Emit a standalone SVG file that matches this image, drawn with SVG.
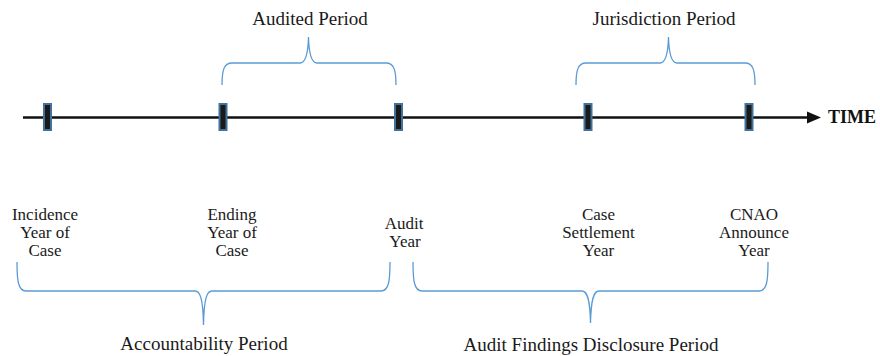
<svg xmlns="http://www.w3.org/2000/svg" width="880" height="356" viewBox="0 0 880 356">
  <style>
    .brace { fill: none; stroke: #5b9bd5; stroke-width: 1.3; }
    .tick { fill: #1a1a1a; stroke: #41719c; stroke-width: 2; }
    .axis { stroke: #111; stroke-width: 2.6; fill: none; }
    .lbl { font-family: "Liberation Serif", "Times New Roman", serif; font-size: 17px; fill: #1a1a1a; text-anchor: middle; }
    .period { font-family: "Liberation Serif", "Times New Roman", serif; font-size: 19px; fill: #1a1a1a; text-anchor: middle; }
    .time { font-family: "Liberation Serif", "Times New Roman", serif; font-size: 18px; font-weight: bold; fill: #111; }
  </style>
  <rect width="880" height="356" fill="#fff"/>

  <!-- time axis and braces -->
  <g id="connectors">
    <line class="axis" x1="23" y1="117.5" x2="810" y2="117.5"/>
    <polygon points="807,111.5 821,117.5 807,123.5" fill="#111"/>
    <!-- top braces -->
    <path class="brace" d="M222,85 C222,70 224,63 232,63 L300,63 C305,63 308,56 308.5,37 C309,56 312,63 317,63 L386,63 C394,63 396,70 396,85"/>
    <path class="brace" d="M576,85 C576,70 578,63 586,63 L660,63 C665,63 668,56 668.5,37 C669,56 672,63 677,63 L745,63 C753,63 755,70 755,85"/>
    <!-- bottom braces -->
    <path class="brace" d="M17,262 C17,280 18,291 26,291 L195,291 C200,291 203,298 203.5,325 C204,298 207,291 212,291 L381,291 C389,291 390,280 390,262"/>
    <path class="brace" d="M413,262 C413,280 414,291 422,291 L582,291 C587,291 590,298 590.5,323 C591,298 594,291 599,291 L759,291 C767,291 768,280 768,262"/>
  </g>

  <g id="time-label">
    <text class="time" x="828" y="123">TIME</text>
  </g>

  <g id="node-incidence">
    <rect class="tick" x="44" y="104" width="7" height="26"/>
    <text class="lbl" x="45" y="220">Incidence</text>
    <text class="lbl" x="45" y="238">Year of</text>
    <text class="lbl" x="45" y="256">Case</text>
  </g>

  <g id="node-ending">
    <rect class="tick" x="219.5" y="104" width="7" height="26"/>
    <text class="lbl" x="232" y="220">Ending</text>
    <text class="lbl" x="232" y="238">Year of</text>
    <text class="lbl" x="232" y="256">Case</text>
  </g>

  <g id="node-audit">
    <rect class="tick" x="395" y="104" width="7" height="26"/>
    <text class="lbl" x="404" y="229">Audit</text>
    <text class="lbl" x="405" y="247">Year</text>
  </g>

  <g id="node-settlement">
    <rect class="tick" x="584.5" y="104" width="7" height="26"/>
    <text class="lbl" x="598.5" y="220">Case</text>
    <text class="lbl" x="598.5" y="238">Settlement</text>
    <text class="lbl" x="598.5" y="256">Year</text>
  </g>

  <g id="node-announce">
    <rect class="tick" x="745.5" y="104" width="7" height="26"/>
    <text class="lbl" x="754" y="220">CNAO</text>
    <text class="lbl" x="754" y="238">Announce</text>
    <text class="lbl" x="754" y="256">Year</text>
  </g>

  <g id="period-audited">
    <text class="period" x="310" y="25">Audited Period</text>
  </g>
  <g id="period-jurisdiction">
    <text class="period" x="664" y="25">Jurisdiction Period</text>
  </g>
  <g id="period-accountability">
    <text class="period" x="204" y="350">Accountability Period</text>
  </g>
  <g id="period-disclosure">
    <text class="period" x="591" y="351">Audit Findings Disclosure Period</text>
  </g>
</svg>
